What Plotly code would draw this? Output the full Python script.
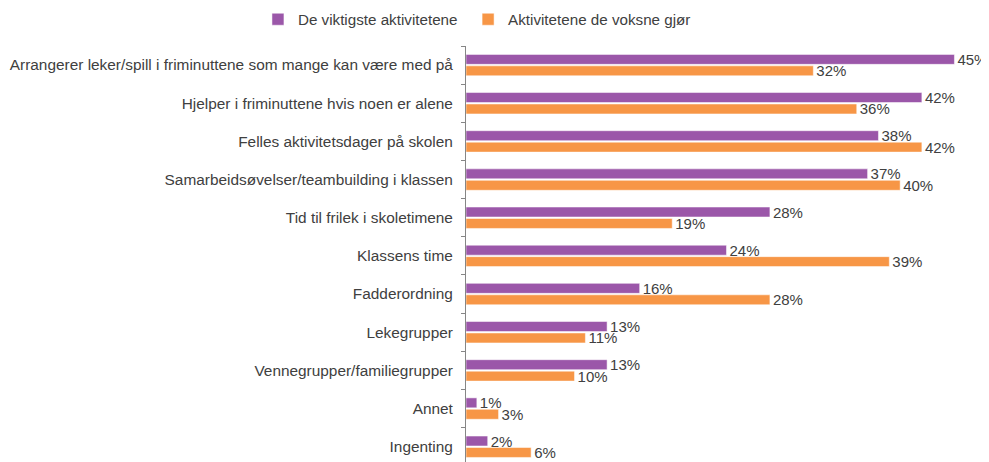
import plotly.graph_objects as go

categories = [
    "Arrangerer leker/spill i friminuttene som mange kan være med på",
    "Hjelper i friminuttene hvis noen er alene",
    "Felles aktivitetsdager på skolen",
    "Samarbeidsøvelser/teambuilding i klassen",
    "Tid til frilek i skoletimene",
    "Klassens time",
    "Fadderordning",
    "Lekegrupper",
    "Vennegrupper/familiegrupper",
    "Annet",
    "Ingenting",
]
series_names = ["De viktigste aktivitetene", "Aktivitetene de voksne gjør"]
viktigste = [45, 42, 38, 37, 28, 24, 16, 13, 13, 1, 2]
voksne = [32, 36, 42, 40, 19, 39, 28, 11, 10, 3, 6]

colors = ["#9B57A9", "#F79646"]
legend_ids = ["legend", "legend2"]
text_color = "#404040"
font_family = "Liberation Sans, Arial, sans-serif"

fig = go.Figure()
for name, vals, col, lg in zip(series_names, [viktigste, voksne], colors, legend_ids):
    fig.add_trace(go.Bar(
        y=categories, x=vals, name=name, orientation="h",
        marker=dict(color=col, line=dict(color="rgba(255,255,255,0.5)", width=1)),
        text=[f"{v}%" for v in vals], textposition="outside",
        textfont=dict(size=15, color=text_color, family=font_family),
        constraintext="none",
        cliponaxis=False,
        legend=lg,
    ))

legend_common = dict(
    orientation="h", xref="container", yref="container",
    y=0.975, xanchor="left", yanchor="middle",
    font=dict(size=15.2, color=text_color),
    bgcolor="rgba(0,0,0,0)",
)

# the page body adds an 8px offset, so the figure is 8px smaller than the window
fig.update_layout(
    template="none",
    width=981, height=454,
    margin=dict(l=458, r=2, t=38, b=0, autoexpand=False),
    paper_bgcolor="white", plot_bgcolor="white",
    barmode="group", bargap=0.40, bargroupgap=0.13,
    font=dict(family=font_family, size=15, color=text_color),
    showlegend=True,
    legend=dict(x=0.2548, **legend_common),
    legend2=dict(x=0.469, **legend_common),
    xaxis=dict(range=[0, 48], visible=False, showgrid=False, zeroline=False,
               automargin=False),
    yaxis=dict(
        range=[10.4, -0.5], showgrid=False, zeroline=False, automargin=False,
        showline=True, linecolor="#868686", linewidth=1,
        ticks="outside", ticklen=4, tickcolor="#868686", tickson="boundaries",
        tickfont=dict(size=15.4, color=text_color, family=font_family),
        ticklabelstandoff=9,
    ),
)

fig.write_html("out.html")
